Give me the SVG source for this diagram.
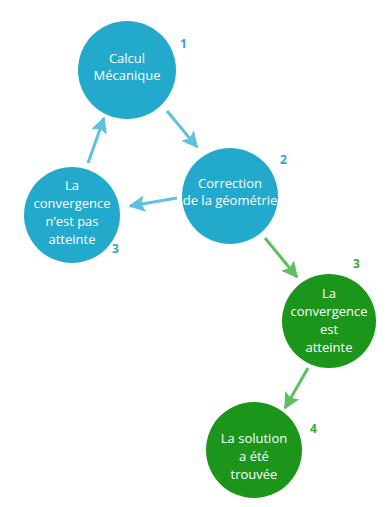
<svg xmlns="http://www.w3.org/2000/svg" width="390" height="507" viewBox="0 0 390 507">
<style>
.bc{fill:#23a9cb}
.gc{fill:#1b961b}
.t{font-family:"Open Sans","Liberation Sans",sans-serif;font-size:13px;fill:#ffffff;text-anchor:middle}
.nb{font-family:"Open Sans","Liberation Sans",sans-serif;font-size:12px;font-weight:bold;fill:#2aa8cc}
.ng{font-family:"Open Sans","Liberation Sans",sans-serif;font-size:12px;font-weight:bold;fill:#3aa83a}
.ab{stroke:#5ec1dd;stroke-width:3;fill:none}
.ag{stroke:#5dbf5d;stroke-width:3;fill:none}
</style>
<defs>
<marker id="hb" viewBox="0 0 10 10" refX="9" refY="5" markerWidth="5.5" markerHeight="5.5" orient="auto" markerUnits="strokeWidth">
<path d="M0,0 L10,5 L0,10 L2,5 Z" fill="#5ec1dd"/>
</marker>
<marker id="hg" viewBox="0 0 10 10" refX="9" refY="5" markerWidth="5.5" markerHeight="5.5" orient="auto" markerUnits="strokeWidth">
<path d="M0,0 L10,5 L0,10 L2,5 Z" fill="#5dbf5d"/>
</marker>
</defs>
<g id="connectors">
<line class="ab" x1="167" y1="111" x2="197" y2="147" marker-end="url(#hb)"/>
<line class="ab" x1="177" y1="198" x2="130" y2="206" marker-end="url(#hb)"/>
<line class="ab" x1="88" y1="163" x2="104" y2="118" marker-end="url(#hb)"/>
<line class="ag" x1="265" y1="238" x2="297" y2="277" marker-end="url(#hg)"/>
<line class="ag" x1="308" y1="368" x2="285" y2="408" marker-end="url(#hg)"/>
</g>
<g id="n1">
<circle class="bc" cx="127" cy="70" r="49"/>
<text class="t" x="127" y="63">Calcul</text>
<text class="t" x="127" y="80">Mécanique</text>
<text class="nb" x="180" y="48">1</text>
</g>
<g id="n2">
<circle class="bc" cx="230" cy="196" r="48"/>
<text class="t" x="230" y="188">Correction</text>
<text class="t" x="230" y="205">de la géométrie</text>
<text class="nb" x="280" y="164">2</text>
</g>
<g id="n3">
<circle class="bc" cx="72" cy="215" r="48"/>
<text class="t" x="72" y="190">La</text>
<text class="t" x="72" y="208">convergence</text>
<text class="t" x="72" y="226">n’est pas</text>
<text class="t" x="72" y="244">atteinte</text>
<text class="nb" x="112" y="253">3</text>
</g>
<g id="n4">
<circle class="gc" cx="329" cy="321" r="47"/>
<text class="t" x="329" y="298">La</text>
<text class="t" x="329" y="316">convergence</text>
<text class="t" x="329" y="334">est</text>
<text class="t" x="329" y="352">atteinte</text>
<text class="ng" x="353" y="268">3</text>
</g>
<g id="n5">
<circle class="gc" cx="254" cy="450" r="48"/>
<text class="t" x="254" y="443">La solution</text>
<text class="t" x="254" y="461">a été</text>
<text class="t" x="254" y="479">trouvée</text>
<text class="ng" x="310" y="433">4</text>
</g>
</svg>
